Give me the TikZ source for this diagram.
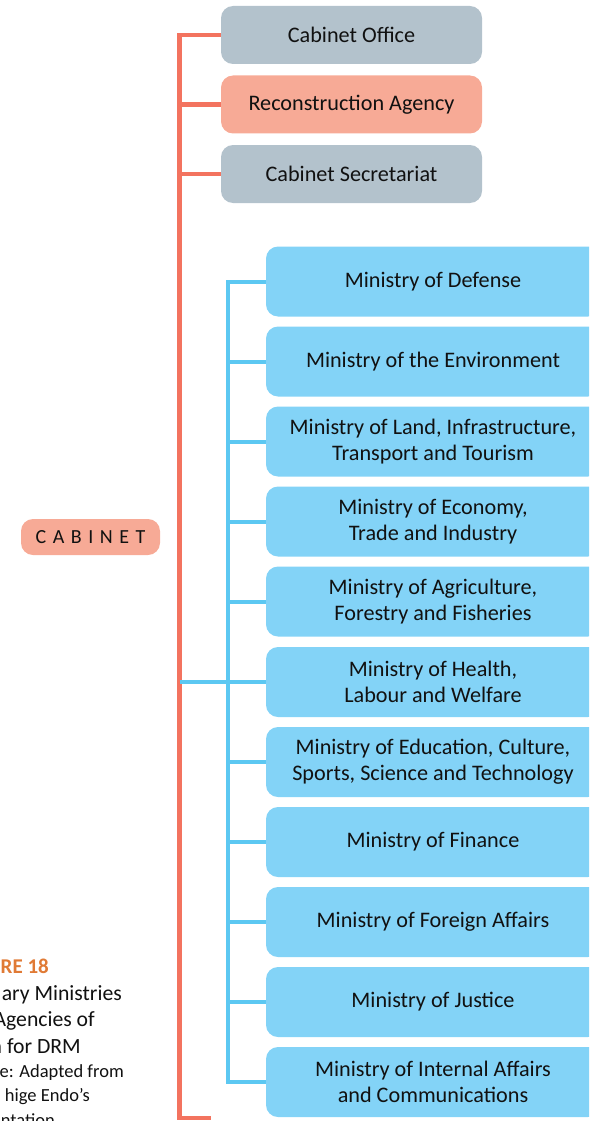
\documentclass[tikz,border=0pt]{standalone}
\usepackage{fontspec}
\setmainfont{Carlito}
\usepackage{tikz}

\definecolor{cabgray}{HTML}{B3C2CC}
\definecolor{cabsalmon}{HTML}{F7AA96}
\definecolor{minblue}{HTML}{83D3F7}
\definecolor{linered}{HTML}{F3735F}
\definecolor{lineblue}{HTML}{5CC8F2}
\definecolor{figorange}{HTML}{E07A35}
\definecolor{txtblack}{HTML}{111111}

\newcommand\cabgap{\hspace{6.5pt}}

\begin{document}
\begin{tikzpicture}[x=1pt,y=-1pt,
  box/.style={rounded corners=12pt, align=center, text=txtblack, inner sep=0pt,
    font=\fontsize{22.2}{26}\selectfont},
  topbox/.style={box, minimum width=261pt, minimum height=58pt},
  minbox/.style={box, fill=minblue, minimum width=334pt, minimum height=70pt},
  redline/.style={draw=linered, line width=4.5pt},
  blueline/.style={draw=lineblue, line width=4pt},
  capline/.style={anchor=base east, inner sep=0pt, text=txtblack}]
\useasboundingbox (0,0) rectangle (589,1121);
\clip (0,0) rectangle (589,1121);

\node[topbox, fill=cabgray] (CO) at (351.5,35) {Cabinet Office};
\node[topbox, fill=cabsalmon] (RA) at (351.5,104.5) {Reconstruction Agency};
\node[topbox, fill=cabgray] (CS) at (351.5,174) {Cabinet Secretariat};

\node[box, fill=cabsalmon, minimum width=139pt, minimum height=36pt,
  font=\fontsize{20}{24}\selectfont] (CAB) at (90.5,537)
  {C\cabgap A\cabgap B\cabgap I\cabgap N\cabgap E\cabgap T};

\node[minbox] (MD) at (433,281.5) {Ministry of Defense};
\node[minbox] (ME) at (433,361.5) {Ministry of the Environment};
\node[minbox] (ML) at (433,441.5) {Ministry of Land, Infrastructure,\\Transport and Tourism};
\node[minbox] (MET) at (433,521.5) {Ministry of Economy,\\Trade and Industry};
\node[minbox] (MA) at (433,601.5) {Ministry of Agriculture,\\Forestry and Fisheries};
\node[minbox] (MH) at (433,682) {Ministry of Health,\\Labour and Welfare};
\node[minbox] (MEd) at (433,762) {Ministry of Education, Culture,\\Sports, Science and Technology};
\node[minbox] (MF) at (433,842) {Ministry of Finance};
\node[minbox] (MFA) at (433,922) {Ministry of Foreign Affairs};
\node[minbox] (MJ) at (433,1002) {Ministry of Justice};
\node[minbox] (MI) at (433,1082) {Ministry of Internal Affairs\\and Communications};

\coordinate (redbot) at (179.5,1118);
\coordinate (redend) at (211,1118);
\coordinate (bluebot) at (227.5,1082);

\draw[redline] (CO.west) -| (redbot) -- (redend);
\draw[redline] (RA.west) -- (RA.west -| redbot);
\draw[redline] (CS.west) -- (CS.west -| redbot);

\draw[blueline] (MH.west -| redbot) -- (MH.west);
\draw[blueline] (MD.west) -| (bluebot) -- (MI.west);
\draw[blueline] (ME.west) -- (ME.west -| bluebot);
\draw[blueline] (ML.west) -- (ML.west -| bluebot);
\draw[blueline] (MET.west) -- (MET.west -| bluebot);
\draw[blueline] (MA.west) -- (MA.west -| bluebot);
\draw[blueline] (MEd.west) -- (MEd.west -| bluebot);
\draw[blueline] (MF.west) -- (MF.west -| bluebot);
\draw[blueline] (MFA.west) -- (MFA.west -| bluebot);
\draw[blueline] (MJ.west) -- (MJ.west -| bluebot);

% caption, cut by the left edge
\node[capline, text=figorange, font=\fontsize{21}{26}\selectfont\bfseries] (fig) at (49,973) {RE 18};
\node[capline, font=\fontsize{21.7}{26}\selectfont] (cap1) at (122,1000) {ary Ministries};
\node[capline, font=\fontsize{21.7}{26}\selectfont] (cap2) at (95,1026) {Agencies of};
\node[capline, font=\fontsize{21.7}{26}\selectfont] (cap3) at (81,1053) {n for DRM};
\node[capline, font=\fontsize{18.5}{24}\selectfont] (src1) at (124,1077) {e: Adapted from};
\node[capline, font=\fontsize{18.5}{24}\selectfont] (src2) at (90,1101) {hige Endo’s};
\node[capline, font=\fontsize{18.5}{24}\selectfont] (src3) at (55,1126) {ntation};
\end{tikzpicture}
\end{document}
